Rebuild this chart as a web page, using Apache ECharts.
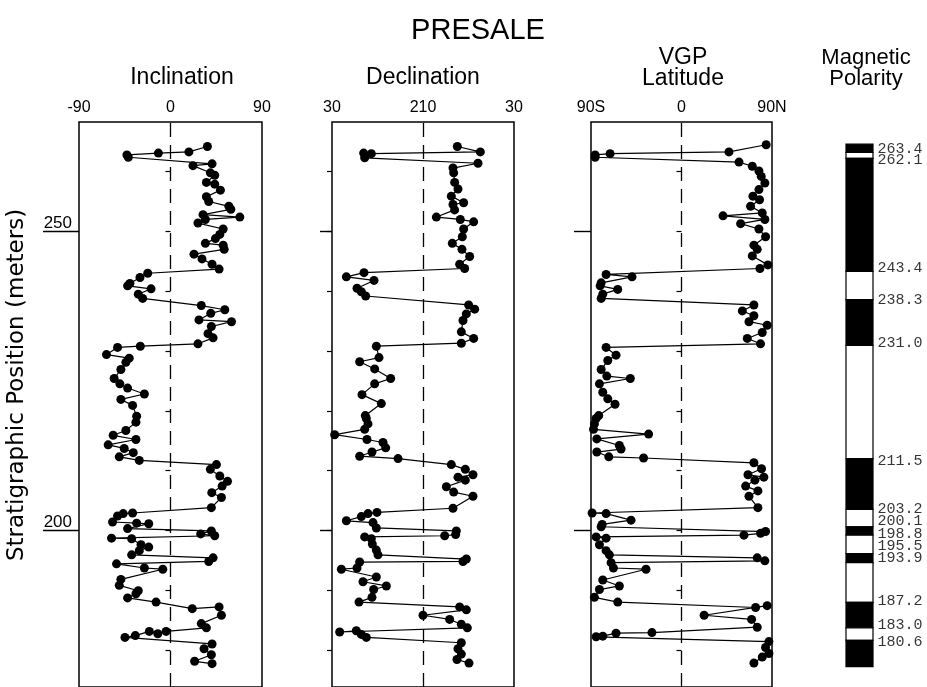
<!DOCTYPE html>
<html><head><meta charset="utf-8">
<script src="https://cdn.jsdelivr.net/npm/echarts@6/dist/echarts.min.js"></script>
<style>html,body{margin:0;padding:0;background:#fff}#c{width:927px;height:687px}</style>
</head><body><div id="c"></div>
<script>
// ---- Inclination (degrees) vs stratigraphic position (m)
const incDepth=[264.2,263.3,263.1,262.8,262.4,261.3,261.0,259.8,259.4,258.2,257.9,256.9,255.8,255.0,254.2,253.7,252.8,252.4,252.0,251.4,250.4,249.5,248.8,248.0,247.7,247.0,246.2,245.4,244.5,243.7,243.0,242.3,241.3,240.9,240.4,239.5,238.8,237.6,236.9,236.3,235.2,234.9,234.1,232.9,232.2,231.2,230.8,230.6,229.4,228.8,228.1,226.9,225.4,224.5,223.8,222.8,221.9,220.9,219.1,218.1,216.7,215.9,215.2,214.3,213.7,213.0,212.3,211.7,211.0,210.2,209.1,208.2,207.4,206.3,205.5,203.8,202.9,202.8,202.4,201.4,201.2,201.1,200.3,199.9,199.4,199.1,198.7,198.6,197.6,197.2,196.6,195.9,195.4,194.8,194.4,193.7,193.5,191.8,190.8,189.9,189.4,188.7,188.0,186.9,187.2,185.8,184.4,183.7,183.1,182.7,183.1,182.4,182.1,181.0,180.2,179.2,178.1,177.7];
const incValue=[36.3,18.1,-11.9,-42.9,-41.5,40.9,22.1,39.2,43.5,35.3,43.5,49.1,35.3,37.6,57.4,59.3,32.0,68.2,34.3,27.0,51.8,48.5,44.2,34.3,51.8,52.8,23.1,31.0,40.9,47.8,-22.4,-30.0,-39.9,-42.2,-19.1,-31.7,-27.4,30.3,53.4,39.6,28.0,60.0,40.2,36.9,41.9,27.0,-29.7,-52.1,-63.0,-40.6,-43.9,-48.8,-55.4,-49.8,-42.2,-25.7,-48.8,-37.3,-33.3,-34.0,-43.9,-56.4,-34.0,-61.3,-45.5,-36.6,-50.4,-30.7,45.2,39.2,48.5,56.1,50.8,40.6,50.1,40.2,-37.3,-46.5,-52.1,-57.0,-33.3,-21.4,-42.2,40.2,29.7,43.5,-58.0,-38.2,-29.0,-21.4,-30.7,-38.2,41.9,37.6,-53.1,-25.7,-7.6,-48.8,-50.4,-31.7,-34.0,-42.2,-14.2,21.4,47.8,50.1,30.3,35.3,-4.3,-12.5,-20.8,-34.6,-44.8,40.9,33.0,40.2,23.7,40.9];

// ---- Declination (degrees, axis runs 30 -> 210 -> 390(=30))
const decDepth=[264.2,263.3,263.0,263.1,262.3,261.4,260.6,259.8,258.2,257.1,255.9,254.8,254.5,253.6,252.4,252.0,251.6,250.4,249.1,248.0,247.0,245.8,244.5,243.8,243.1,242.4,241.8,240.5,239.9,239.2,237.7,237.0,236.2,235.1,233.2,232.1,231.3,230.8,228.9,228.2,227.0,225.4,224.5,222.7,221.2,219.2,218.7,217.8,216.9,216.0,215.2,214.7,213.8,213.1,212.4,212.0,211.0,210.2,209.3,208.9,208.4,207.3,206.4,205.7,203.7,203.0,202.8,202.3,201.6,201.3,200.4,199.9,199.3,199.1,198.9,198.6,197.7,196.7,195.9,195.2,194.8,194.7,193.7,193.5,192.2,191.4,190.7,190.1,188.8,188.0,187.2,186.7,185.8,185.1,184.3,183.7,183.0,183.2,182.6,182.1,181.2,180.2,179.3,178.4,177.8];
const decValue=[277.9,323.4,107.8,92.6,94.6,318.8,269.3,270.7,272.6,279.2,266.0,290.4,269.3,272.6,236.4,283.8,310.2,290.4,287.8,268.0,287.1,302.3,282.5,292.4,93.3,58.4,113.1,79.5,88.0,96.6,300.3,312.2,295.7,289.1,285.8,310.2,285.8,117.7,123.0,84.7,114.4,146.0,114.4,89.3,127.6,95.9,97.9,101.2,94.6,35.3,99.2,130.9,136.2,109.1,84.7,160.6,266.0,293.7,308.9,279.2,293.7,256.2,270.7,308.9,269.3,119.0,101.2,88.0,58.4,111.1,117.7,275.9,274.6,252.9,94.6,107.8,109.8,117.7,121.0,295.7,289.1,84.7,79.5,48.5,117.7,91.3,137.5,112.4,109.1,83.4,282.5,295.7,210.0,262.7,285.8,297.7,45.2,78.1,88.0,97.9,285.8,279.2,285.8,277.2,301.0];

// ---- VGP latitude (degrees, S negative)
const vgpDepth=[264.5,263.3,263.0,262.8,262.4,261.6,260.9,260.1,259.2,258.1,257.0,255.9,255.3,254.2,253.1,252.6,252.0,251.3,250.4,249.1,247.7,247.0,245.9,244.4,243.8,242.8,242.4,241.4,240.9,240.3,239.5,238.8,237.7,236.7,235.9,234.9,234.3,233.1,232.1,231.2,230.6,229.3,228.4,226.9,225.8,225.4,224.5,223.1,222.0,221.1,219.2,218.7,217.8,216.9,216.1,215.3,214.2,213.6,213.1,212.3,212.1,211.3,210.3,209.3,208.9,208.4,207.4,206.6,205.7,203.8,202.9,202.8,201.7,201.0,200.6,199.8,199.5,199.2,198.9,198.7,197.6,196.6,195.9,195.4,194.9,194.6,193.7,193.5,191.7,190.7,190.1,188.8,188.0,187.1,187.4,185.8,185.1,183.8,182.9,182.8,182.3,182.2,181.4,180.4,179.4,178.8,177.8];
const vgpValue=[84.2,47.2,-71.0,-85.9,-85.9,57.2,70.4,77.0,79.3,82.9,77.0,71.0,77.6,68.7,80.3,41.3,82.9,58.8,77.0,83.6,72.0,75.3,70.4,85.9,78.0,-75.0,-49.2,-79.9,-80.9,-63.4,-78.3,-79.9,72.0,60.5,72.0,67.1,85.2,80.3,65.4,78.6,-75.0,-65.1,-73.3,-79.9,-74.3,-50.9,-81.6,-78.3,-73.3,-66.1,-82.3,-84.9,-86.6,-87.5,-32.7,-84.2,-61.8,-60.1,-84.2,-72.3,-37.7,72.0,79.6,66.1,81.9,73.0,63.8,76.0,67.1,76.0,-88.9,-75.0,-50.2,-78.9,-79.9,83.6,78.6,62.1,-84.9,-75.0,-81.6,-75.0,-71.7,75.3,82.9,-70.0,-67.7,-35.3,-78.3,-61.8,-81.6,-86.6,-63.4,73.7,85.2,22.5,69.7,75.3,-29.4,-65.1,-78.3,-84.9,86.9,83.6,86.9,80.3,72.0];

// ---- Magnetic polarity column (1 = normal/black, 0 = reversed/white)
const polTop=[264.6,263.2,262.2,243.3,238.6,230.95,212.0,203.5,200.6,199.2,196.1,194.6,187.95,183.7,181.6];
const polBottom=[263.2,262.2,243.3,238.6,230.95,212.0,203.5,200.6,199.2,196.1,194.6,187.95,183.7,181.6,177.2];
const polNormal=[1,0,1,0,1,0,1,0,1,0,1,0,1,0,1];
const polLabels=['263.4','262.1','243.4','238.3','231.0','211.5','203.2','200.1','198.8','195.5','193.9','187.2','183.0','180.6'];
const polLabelPos=[263.8,262.0,243.9,238.6,231.3,211.6,203.6,201.6,199.45,197.3,195.3,188.1,184.1,181.4];

// ---- axis tick values
const incTicks=[-90,0,90];
const decTicks=[30,210,390];
const vgpTicks=[-90,0,90];
const depthMinor=[180,190,200,210,220,230,240,250,260];
const depthMajor=[200,250];

const Y_MIN=173.8, Y_MAX=268.3;
const FONT='Liberation Sans';
const chart=echarts.init(document.getElementById('c'),null,{renderer:'canvas'});

function grid(left,width,show){return {left:left,width:width,top:122,height:567,show:show,borderColor:'#000',borderWidth:1.5,containLabel:false};}
function yPair(gi,majorLen,showLabel){
  return [
    {type:'value',gridIndex:gi,min:Y_MIN,max:Y_MAX,position:'left',axisLine:{show:false},splitLine:{show:false},
     axisTick:{show:true,customValues:depthMinor,length:5,lineStyle:{color:'#000',width:1.2}},axisLabel:{show:false}},
    {type:'value',gridIndex:gi,min:Y_MIN,max:Y_MAX,position:'left',axisLine:{show:false},splitLine:{show:false},
     axisTick:{show:true,customValues:depthMajor,length:majorLen,lineStyle:{color:'#000',width:1.4}},
     axisLabel:{show:showLabel,customValues:depthMajor,margin:7,verticalAlign:'bottom',fontFamily:FONT,fontSize:17,color:'#000'}}
  ];
}
function xTop(gi,min,max,ticks,fmt){
  return {type:'value',gridIndex:gi,position:'top',min:min,max:max,axisLine:{show:false},axisTick:{show:false},splitLine:{show:false},
    axisLabel:{customValues:ticks,margin:6,fontFamily:FONT,fontSize:16,color:'#000',formatter:fmt}};
}
function profile(xi,yi,xs,ys,center){
  return {type:'line',xAxisIndex:xi,yAxisIndex:yi,data:ys.map((d,i)=>[xs[i],d]),symbol:'circle',symbolSize:9,showSymbol:true,
    lineStyle:{color:'#000',width:1.2},itemStyle:{color:'#000'},animation:false,z:3,
    markLine:{silent:true,symbol:'none',label:{show:false},lineStyle:{color:'#000',type:[14,8],width:1.3},data:[{xAxis:center}]}};
}
function txt(x,y,t,size,fam,rot){
  return {type:'text',x:x,y:y,rotation:rot||0,style:{text:t,font:size+'px "'+(fam||FONT)+'"',fill:'#000',textAlign:'center',textVerticalAlign:'middle'}};
}

const option={
  animation:false,
  backgroundColor:'#fff',
  grid:[grid(79,183,true),grid(332,182,true),grid(591,181,true),grid(846,27,false)],
  xAxis:[
    xTop(0,-90,90,incTicks,v=>String(v)),
    xTop(1,30,390,decTicks,v=>String(v>360?v-360:v)),
    xTop(2,-90,90,vgpTicks,v=>v<0?(-v)+'S':(v>0?v+'N':'0')),
    {type:'value',gridIndex:3,min:0,max:1,show:false}
  ],
  yAxis:[].concat(yPair(0,36,true),yPair(1,12,false),yPair(2,17,false),
    [{type:'value',gridIndex:3,min:Y_MIN,max:Y_MAX,show:false}]),
  series:[
    profile(0,0,incValue,incDepth,0),
    profile(1,2,decValue,decDepth,210),
    profile(2,4,vgpValue,vgpDepth,0),
    {type:'custom',xAxisIndex:3,yAxisIndex:6,data:polTop.map((t,i)=>[t,polBottom[i],polNormal[i]]),
     encode:{y:[0,1]},
     renderItem:function(params,api){
       const p1=api.coord([0,api.value(0)]);const p2=api.coord([1,api.value(1)]);
       return {type:'rect',shape:{x:p1[0],y:p1[1],width:p2[0]-p1[0],height:p2[1]-p1[1]},
         style:{fill:api.value(2)?'#000':'#fff',stroke:'#000',lineWidth:1.2}};
     }},
    {type:'scatter',xAxisIndex:3,yAxisIndex:6,symbolSize:1,itemStyle:{color:'rgba(0,0,0,0)'},
     data:polLabels.map((t,i)=>({name:t,value:[1,polLabelPos[i]]})),
     label:{show:true,position:'right',distance:4,formatter:'{b}',fontFamily:'Liberation Mono',fontSize:15,color:'#000'}}
  ],
  graphic:[
    txt(478,31,'PRESALE',29),
    txt(182,78,'Inclination',23),
    txt(423,78,'Declination',23),
    txt(683,58,'VGP',23),
    txt(683,79,'Latitude',23),
    txt(866,58,'Magnetic',22),
    txt(866,79,'Polarity',22),
    txt(17,385,'Stratigraphic Position (meters)',23,'DejaVu Sans',Math.PI/2)
  ]
};
chart.setOption(option);
</script></body></html>
